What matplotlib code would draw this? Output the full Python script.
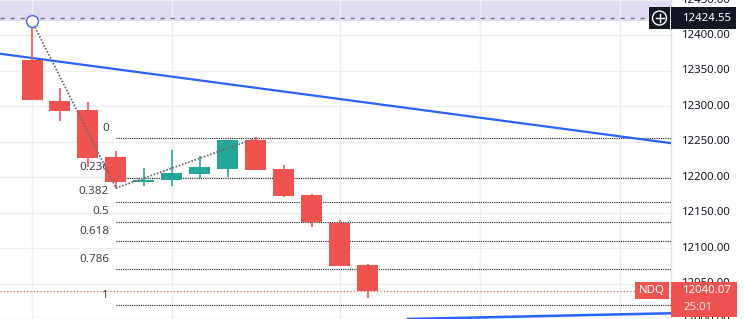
import matplotlib
matplotlib.use("Agg")
import matplotlib.pyplot as plt
from matplotlib.patches import Rectangle, Circle
from matplotlib.transforms import IdentityTransform, blended_transform_factory
from matplotlib.lines import Line2D

# ---------------- data ----------------
opens  = [12365.0, 12307.0, 12294.7, 12229.0, 12192.6, 12195.5, 12205.2, 12211.8, 12252.5, 12211.8, 12175.3, 12135.9, 12075.6]
highs  = [12424.55, 12325.6, 12305.9, 12237.0, 12212.8, 12238.5, 12230.0, 12252.5, 12256.3, 12217.4, 12176.7, 12140.0, 12077.0]
lows   = [12309.0, 12279.6, 12215.0, 12184.7, 12188.0, 12187.0, 12198.7, 12201.0, 12210.4, 12172.5, 12129.4, 12074.6, 12029.6]
closes = [12309.0, 12293.7, 12227.7, 12192.6, 12196.4, 12206.2, 12214.6, 12252.5, 12210.4, 12173.9, 12136.4, 12074.6, 12040.07]

# trend-based fib extension anchors (index, price)
fib_idx = [0, 3, 8]
fib_price = [12420.0, 12184.7, 12255.0]
fib_ratios = [0, 0.236, 0.382, 0.5, 0.618, 0.786, 1]
fib_labels = ["0", "0.236", "0.382", "0.5", "0.618", "0.786", "1"]

# trend lines (two anchor points each, extended)
trend1 = [(0, 12368.2), (20, 12262.9)]
trend2 = [(14, 12000.5), (22, 12007.4)]

high_price = 12424.55
last_price = 12040.07
timer_text = "25:01"
symbol = "NDQ"
zone_range = (12420.3, 12470.0)

price_ticks = [12000, 12050, 12100, 12150, 12200, 12250, 12300, 12350, 12400, 12450]
time_grid = [0, 5, 11, 16, 21]

# ---------------- style ----------------
RED = "#EF5350"
GREEN = "#26A69A"
BLUE = "#2962FF"
TXT = "#131722"
GRID = "#eeeff2"
plt.rcParams['lines.scale_dashes'] = False
FONT = "Noto Sans"

W, H = 744, 319
fig = plt.figure(figsize=(W / 100, H / 100), dpi=100)
fig.patch.set_facecolor("white")
ax = fig.add_axes([0, 0, 671 / W, 1])
ax.set_facecolor("white")

ax.set_xlim(-32 / 28, (671 - 32) / 28)
ax.set_ylim(12001.1, 12449.2)

for s in ["top", "left", "bottom"]:
    ax.spines[s].set_visible(False)
ax.spines["right"].set_color("#e0e3eb")
ax.spines["right"].set_linewidth(1)

ax.set_yticks(price_ticks)
ax.set_xticks(time_grid)
ax.tick_params(left=False, right=False, bottom=False, labelleft=False, labelbottom=False)
ax.grid(True, color=GRID, lw=1.0, zorder=0)
ax.set_axisbelow(True)

# purple zone
ax.axhspan(zone_range[0], zone_range[1], color="#e2dcf2", zorder=0.5, lw=0)

# dashed high line
ax.axhline(high_price, color="#787b86", lw=1.0, linestyle=(0, (3.2, 4.0)), zorder=1)

# trend lines
ax.axline(trend1[0], trend1[1], color=BLUE, lw=1.6, zorder=3)
ax.axline(trend2[0], trend2[1], color=BLUE, lw=1.8, zorder=3)

# fib levels
span = fib_price[0] - fib_price[1]
for r, lab in zip(fib_ratios, fib_labels):
    p = fib_price[2] - r * span
    ax.plot([fib_idx[1], 40], [p, p], color="#1e1e1e", lw=0.85,
            linestyle=(0, (0.8, 0.8)), zorder=2)
    ax.annotate(lab, xy=(fib_idx[1], p), xytext=(-7, 10), textcoords="offset pixels",
                ha="right", va="center", fontsize=8.4, color="#444444", family=FONT, zorder=4)

# last price dotted line
ax.axhline(last_price, color=RED, lw=0.8, linestyle=(0, (0.8, 1.6)), zorder=2)

# candles
for i, (o, h, l, c) in enumerate(zip(opens, highs, lows, closes)):
    col = GREEN if c >= o else RED
    ax.vlines(i, l, h, color=col, lw=1.2, zorder=5)
    ax.bar(i, abs(c - o), bottom=min(o, c), width=0.75, color=col, zorder=6, lw=0)

# trend dotted path for fib anchors
ax.plot(fib_idx, fib_price, color="#6b6b6b", lw=1.3, linestyle=(0, (1.2, 1.2)), zorder=7)
ax.plot(fib_idx[0], fib_price[0], "o", ms=8.5, mfc="white", mec="#4f73f7", mew=1.1, zorder=8)

# price axis labels
tr = blended_transform_factory(fig.transFigure, ax.transData)
for t in price_ticks:
    fig.text(682 / W, t, f"{t:.2f}", transform=tr, ha="left", va="center",
             fontsize=8.2, color=TXT, family=FONT, zorder=2)

def ypix(price):
    return ax.transData.transform((0, price))[1]

# high price label
yh = ypix(high_price)
fig.add_artist(Rectangle((671, yh - 11), 65, 22, transform=IdentityTransform(),
                         facecolor=TXT, lw=0, zorder=5))
fig.add_artist(Rectangle((649, yh - 11), 21, 22, transform=IdentityTransform(),
                         facecolor=TXT, lw=0, zorder=5))
fig.add_artist(Circle((659.5, yh), 7, transform=IdentityTransform(),
                      facecolor="none", edgecolor="white", lw=1.0, zorder=6))
fig.add_artist(Line2D([655.5, 663.5], [yh, yh], transform=IdentityTransform(),
                      color="white", lw=1.0, zorder=7))
fig.add_artist(Line2D([659.5, 659.5], [yh - 4, yh + 4], transform=IdentityTransform(),
                      color="white", lw=1.0, zorder=7))
fig.text(683, yh, f"{high_price:.2f}", transform=IdentityTransform(), ha="left", va="center",
         fontsize=8.2, color="white", fontweight="bold", family=FONT, zorder=8)

# last price label
yl = ypix(last_price)
fig.add_artist(Rectangle((671, yl - 26.5), 66, 35, transform=IdentityTransform(),
                         facecolor=RED, lw=0, zorder=5))
fig.add_artist(Rectangle((635, yl - 8.5), 34, 17, transform=IdentityTransform(),
                         facecolor=RED, lw=0, zorder=5))
fig.text(652, yl, symbol, transform=IdentityTransform(), ha="center", va="center",
         fontsize=8.2, color="white", fontweight="bold", family=FONT, zorder=8)
fig.text(683, yl, f"{last_price:.2f}", transform=IdentityTransform(), ha="left", va="center",
         fontsize=8.2, color="white", family=FONT, zorder=8)
fig.text(683, yl - 17, timer_text, transform=IdentityTransform(), ha="left", va="center",
         fontsize=8.2, color="#fde4e4", family=FONT, zorder=8)

fig.savefig("out.png", dpi=100)
